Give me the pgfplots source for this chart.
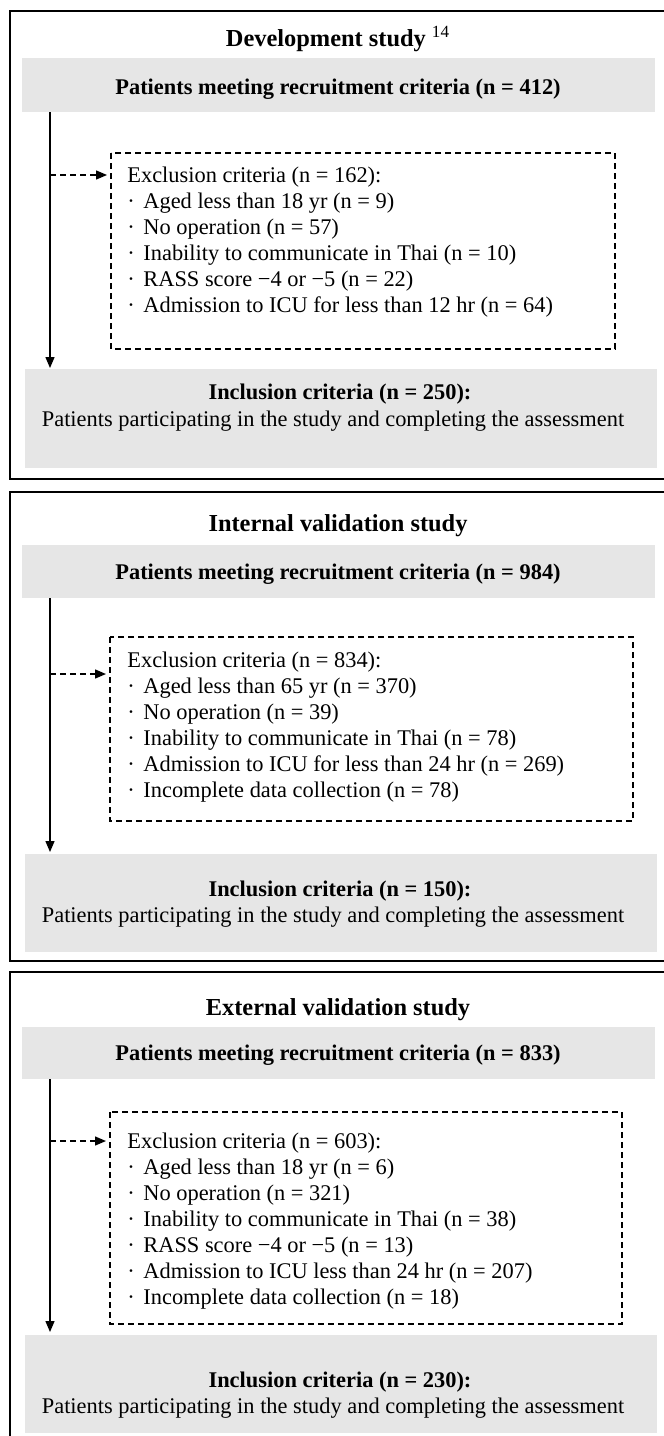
\documentclass[border=0pt]{standalone}
\usepackage{fontspec}
\setmainfont{Liberation Serif}
\usepackage{pgfplots}
\pgfplotsset{compat=1.18}
\usetikzlibrary{arrows.meta}
\definecolor{boxgray}{HTML}{E6E6E6}
\newcommand\bodyfont{\fontsize{11.2bp}{13bp}\selectfont}
\newcommand\headfont{\fontsize{11.2bp}{13bp}\selectfont\bfseries}
\newcommand\titlefont{\fontsize{12.2bp}{14bp}\selectfont\bfseries}
\newcommand\exhead[2]{\node[anchor=base west,inner sep=0pt,font=\bodyfont] at (axis cs:127,#1) {#2};}
\newcommand\exline[2]{\node[anchor=base,inner sep=0pt,font=\bodyfont] at (axis cs:131,#1) {·};
  \node[anchor=base west,inner sep=0pt,font=\bodyfont] at (axis cs:143,#1) {#2};}
\tikzset{frame/.style={draw=black,line width=1.2bp},
  flow/.style={line width=0.7bp,-{Triangle[length=5.5bp,width=4.5bp]}},
  dflow/.style={line width=0.7bp,dash pattern=on 3bp off 2bp,-{Triangle[length=5.5bp,width=4.5bp]}},
  dbox/.style={line width=0.7bp,dash pattern=on 3bp off 2bp}}
\begin{document}
\begin{tikzpicture}
\begin{axis}[scale only axis, width=332bp, height=718bp,
  xmin=0, xmax=664, ymin=0, ymax=1436, y dir=reverse,
  hide axis, clip=true]
\coordinate (BL) at (axis cs:0,1436);
\coordinate (TR) at (axis cs:664,0);
% ---------------- Panel 1 ----------------
\draw[frame] (axis cs:10,11) rectangle (axis cs:720,479);
\node[anchor=base,font=\titlefont] at (axis cs:338,46) {Development study \textsuperscript{\normalfont 14}};
\fill[boxgray] (axis cs:22,58) rectangle (axis cs:655,112);
\node[anchor=base,font=\headfont] at (axis cs:338,94) {Patients meeting recruitment criteria (n = 412)};
\draw[flow] (axis cs:50,112) -- (axis cs:50,368);
\draw[dbox] (axis cs:111,153) rectangle (axis cs:615,349);
\draw[dflow] (axis cs:50,175) -- (axis cs:107,175);
\exhead{182}{Exclusion criteria (n = 162):}
\exline{208}{Aged less than 18 yr (n = 9)}
\exline{234}{No operation (n = 57)}
\exline{260}{Inability to communicate in Thai (n = 10)}
\exline{286}{RASS score −4 or −5 (n = 22)}
\exline{312}{Admission to ICU for less than 12 hr (n = 64)}
\fill[boxgray] (axis cs:25,369) rectangle (axis cs:657,468);
\node[anchor=base,font=\headfont] at (axis cs:340,399) {Inclusion criteria (n = 250):};
\node[anchor=base,font=\bodyfont] at (axis cs:333,426) {Patients participating in the study and completing the assessment};
% ---------------- Panel 2 ----------------
\draw[frame] (axis cs:10,492) rectangle (axis cs:720,961);
\node[anchor=base,font=\titlefont] at (axis cs:338,531) {Internal validation study};
\fill[boxgray] (axis cs:22,545) rectangle (axis cs:655,598);
\node[anchor=base,font=\headfont] at (axis cs:338,579) {Patients meeting recruitment criteria (n = 984)};
\draw[flow] (axis cs:50,598) -- (axis cs:50,852);
\draw[dbox] (axis cs:110,637) rectangle (axis cs:633,821);
\draw[dflow] (axis cs:50,674) -- (axis cs:106,674);
\exhead{667}{Exclusion criteria (n = 834):}
\exline{693}{Aged less than 65 yr (n = 370)}
\exline{719}{No operation (n = 39)}
\exline{745}{Inability to communicate in Thai (n = 78)}
\exline{771}{Admission to ICU for less than 24 hr (n = 269)}
\exline{797}{Incomplete data collection (n = 78)}
\fill[boxgray] (axis cs:25,854) rectangle (axis cs:657,952);
\node[anchor=base,font=\headfont] at (axis cs:340,896) {Inclusion criteria (n = 150):};
\node[anchor=base,font=\bodyfont] at (axis cs:333,922) {Patients participating in the study and completing the assessment};
% ---------------- Panel 3 ----------------
\draw[frame] (axis cs:10,972) rectangle (axis cs:720,1500);
\node[anchor=base,font=\titlefont] at (axis cs:338,1015) {External validation study};
\fill[boxgray] (axis cs:22,1027) rectangle (axis cs:655,1079);
\node[anchor=base,font=\headfont] at (axis cs:338,1060) {Patients meeting recruitment criteria (n = 833)};
\draw[flow] (axis cs:50,1079) -- (axis cs:50,1332);
\draw[dbox] (axis cs:110,1112) rectangle (axis cs:622,1324);
\draw[dflow] (axis cs:50,1141) -- (axis cs:106,1141);
\exhead{1148}{Exclusion criteria (n = 603):}
\exline{1174}{Aged less than 18 yr (n = 6)}
\exline{1200}{No operation (n = 321)}
\exline{1226}{Inability to communicate in Thai (n = 38)}
\exline{1252}{RASS score −4 or −5 (n = 13)}
\exline{1278}{Admission to ICU less than 24 hr (n = 207)}
\exline{1304}{Incomplete data collection (n = 18)}
\fill[boxgray] (axis cs:25,1335) rectangle (axis cs:657,1433);
\node[anchor=base,font=\headfont] at (axis cs:340,1387) {Inclusion criteria (n = 230):};
\node[anchor=base,font=\bodyfont] at (axis cs:333,1413) {Patients participating in the study and completing the assessment};
\end{axis}
\pgfresetboundingbox
\path (BL) rectangle (TR);
\end{tikzpicture}
\end{document}
